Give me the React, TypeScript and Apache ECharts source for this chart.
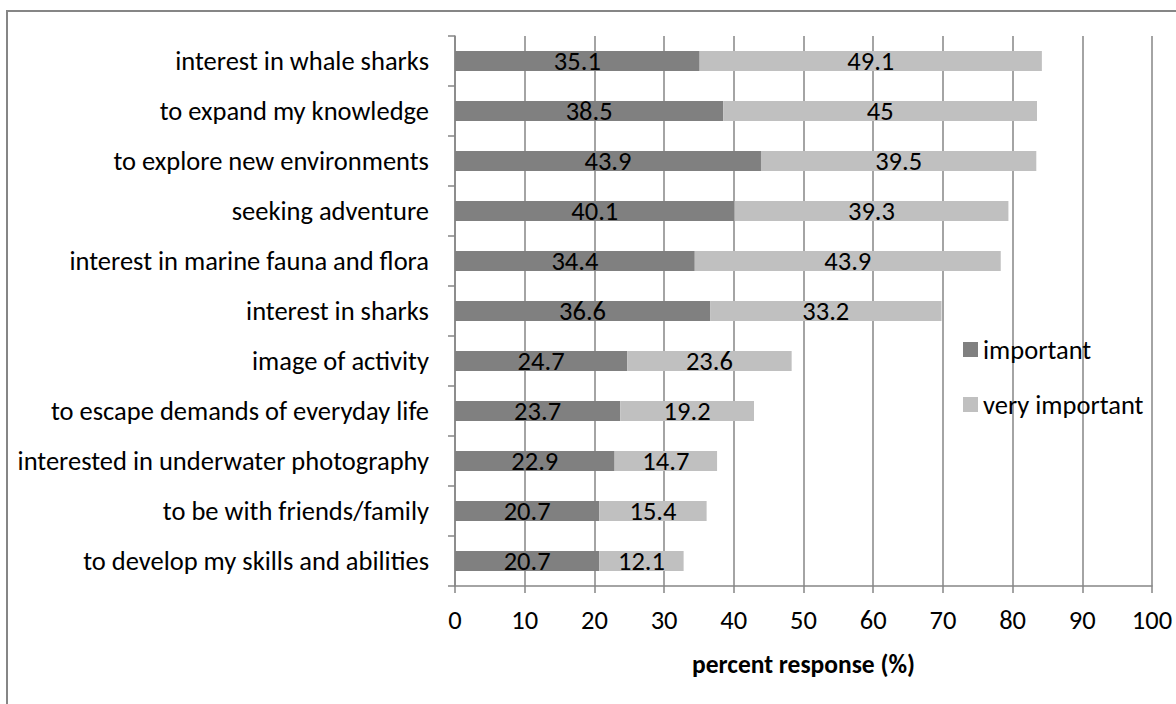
import React, { useEffect, useRef } from "react";
import * as echarts from "echarts";

// Motivations, listed from top to bottom
const categories = [
  "interest in whale sharks",
  "to expand my knowledge",
  "to explore new environments",
  "seeking adventure",
  "interest in marine fauna and flora",
  "interest in sharks",
  "image of activity",
  "to escape demands of everyday life",
  "interested in underwater photography",
  "to be with friends/family",
  "to develop my skills and abilities",
];

const important = [35.1, 38.5, 43.9, 40.1, 34.4, 36.6, 24.7, 23.7, 22.9, 20.7, 20.7];
const veryImportant = [49.1, 45, 39.5, 39.3, 43.9, 33.2, 23.6, 19.2, 14.7, 15.4, 12.1];

const xTicks = { min: 0, max: 100, interval: 10 };

const FONT = "Carlito, Calibri, Lato, sans-serif";
const GRID_GRAY = "#868686";
const TEXT_SIZE = 26.5;

export default function App() {
  const ref = useRef<HTMLDivElement>(null);

  useEffect(() => {
    if (!ref.current) return;
    const chart = echarts.init(ref.current, undefined, { renderer: "svg" });

    const barLabel = {
      show: true,
      position: "inside" as const,
      color: "#000",
      fontSize: TEXT_SIZE,
      fontFamily: FONT,
    };

    chart.setOption({
      animation: false,
      backgroundColor: "#fff",
      textStyle: { fontFamily: FONT },
      graphic: [
        {
          type: "rect",
          shape: { x: 7, y: 11, width: 1200, height: 720 },
          style: { fill: "none", stroke: GRID_GRAY, lineWidth: 2 },
          silent: true,
        },
      ],
      grid: { left: 455, right: 24, top: 36, bottom: 118 },
      legend: {
        orient: "vertical",
        left: 958,
        top: 331,
        itemWidth: 15,
        itemHeight: 15,
        itemGap: 28,
        icon: "rect",
        textStyle: { fontSize: TEXT_SIZE, color: "#000", fontFamily: FONT },
        data: ["important", "very important"],
      },
      xAxis: {
        type: "value",
        min: xTicks.min,
        max: xTicks.max,
        interval: xTicks.interval,
        name: "percent response (%)",
        nameLocation: "middle",
        nameGap: 65,
        nameTextStyle: { fontSize: 25.5, fontWeight: "bold", color: "#000", fontFamily: FONT },
        axisLine: { show: true, lineStyle: { color: GRID_GRAY, width: 1.5 } },
        axisTick: { show: true, length: 7, lineStyle: { color: GRID_GRAY, width: 1.5 } },
        axisLabel: { fontSize: TEXT_SIZE, color: "#000", margin: 20, fontFamily: FONT },
        splitLine: { show: true, lineStyle: { color: GRID_GRAY, width: 1.5 } },
      },
      yAxis: {
        type: "category",
        inverse: true,
        data: categories,
        axisLine: { show: true, lineStyle: { color: GRID_GRAY, width: 1.5 } },
        axisTick: { show: true, length: 7, inside: false, lineStyle: { color: GRID_GRAY, width: 1.5 } },
        axisLabel: { fontSize: TEXT_SIZE, color: "#000", margin: 26, fontFamily: FONT },
      },
      series: [
        {
          name: "important",
          type: "bar",
          stack: "total",
          data: important,
          barWidth: 20,
          itemStyle: { color: "#808080" },
          label: barLabel,
        },
        {
          name: "very important",
          type: "bar",
          stack: "total",
          data: veryImportant,
          barWidth: 20,
          itemStyle: { color: "#c0c0c0" },
          label: barLabel,
        },
      ],
    });

    return () => chart.dispose();
  }, []);

  return (
    <div
      ref={ref}
      style={{ position: "fixed", left: 0, top: 0, width: 1176, height: 704 }}
    />
  );
}
